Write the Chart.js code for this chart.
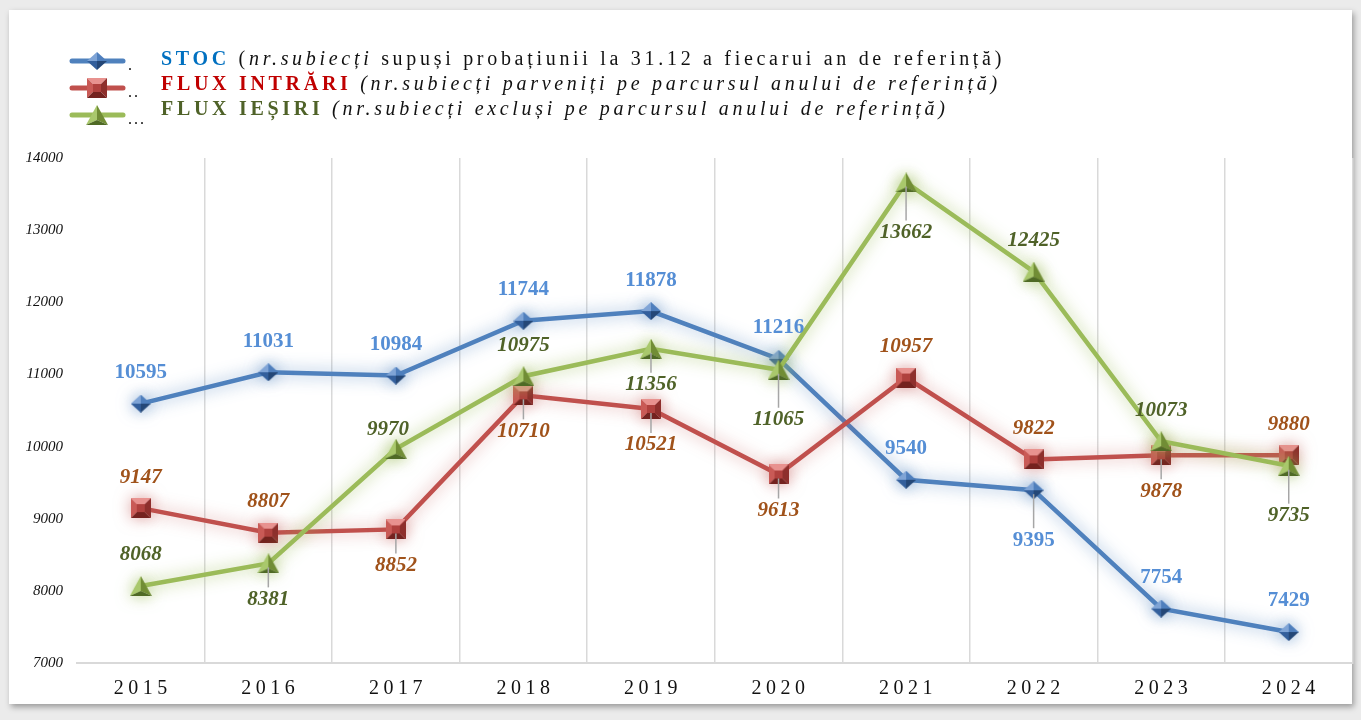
<!DOCTYPE html>
<html>
<head>
<meta charset="utf-8">
<script src="https://cdn.jsdelivr.net/npm/chart.js@4/dist/chart.umd.min.js"></script>
<style>
  html, body { margin: 0; padding: 0; background: #ebebeb; overflow: hidden; }
  #panel { position: absolute; left: 9px; top: 10px; width: 1343px; height: 694px; background: #fff;
           box-shadow: 2px 3px 6px rgba(0,0,0,0.35); }
  #c { position: absolute; left: 0; top: 0; }
</style>
</head>
<body>
<div id="panel"></div>
<canvas id="c" width="1361" height="720"></canvas>
<script>
// data
const years = ["2015", "2016", "2017", "2018", "2019", "2020", "2021", "2022", "2023", "2024"];
const stoc = [10595, 11031, 10984, 11744, 11878, 11216, 9540, 9395, 7754, 7429];
const fluxIntrari = [9147, 8807, 8852, 10710, 10521, 9613, 10957, 9822, 9878, 9880];
const fluxIesiri = [8068, 8381, 9970, 10975, 11356, 11065, 13662, 12425, 10073, 9735];

// where each value label goes: a = above, b = below, B = further below, l = above-left
const stocLabelPos = ["a", "a", "a", "a", "a", "a", "a", "B", "a", "a"];
const intrariLabelPos = ["a", "a", "b", "b", "b", "b", "a", "a", "b", "a"];
const iesiriLabelPos = ["a", "b", "l", "a", "b", "B", "B", "a", "a", "B"];

const SERIF = "'Liberation Serif', 'Times New Roman', serif";

//! marker pictures with bevelled facets
function facet(g, pts, col) {
  g.beginPath();
  g.moveTo(pts[0][0], pts[0][1]);
  for (let i = 1; i < pts.length; i++) g.lineTo(pts[i][0], pts[i][1]);
  g.closePath();
  g.fillStyle = col;
  g.fill();
}
function diamondMarker() {
  const c = document.createElement("canvas");
  c.width = 20; c.height = 18;
  const g = c.getContext("2d");
  facet(g, [[0, 9], [10, 0], [10, 9]], "#7fa4d6");
  facet(g, [[10, 0], [20, 9], [10, 9]], "#4f7fbd");
  facet(g, [[0, 9], [10, 18], [10, 9]], "#335f9c");
  facet(g, [[20, 9], [10, 18], [10, 9]], "#244777");
  return c;
}
function squareMarker() {
  const c = document.createElement("canvas");
  c.width = 20; c.height = 20;
  const g = c.getContext("2d");
  facet(g, [[0, 0], [20, 0], [14, 6], [6, 6]], "#e8928f");
  facet(g, [[0, 0], [6, 6], [6, 14], [0, 20]], "#c95a56");
  facet(g, [[20, 0], [20, 20], [14, 14], [14, 6]], "#8e2f2c");
  facet(g, [[0, 20], [6, 14], [14, 14], [20, 20]], "#74221f");
  g.fillStyle = "#b0413e";
  g.fillRect(6, 6, 8, 8);
  return c;
}
function triangleMarker() {
  const c = document.createElement("canvas");
  c.width = 22; c.height = 20;
  const g = c.getContext("2d");
  facet(g, [[11, 0], [0, 20], [11, 15]], "#a9c86c");
  facet(g, [[11, 0], [22, 20], [11, 15]], "#718d35");
  facet(g, [[0, 20], [22, 20], [11, 15]], "#4f6a25");
  return c;
}
const markers = [diamondMarker(), squareMarker(), triangleMarker()];

//! soft glow round each line
const glowColors = ["rgba(79,129,189,0.7)", "rgba(192,80,77,0.55)", "rgba(155,187,89,0.8)"];
const glowPlugin = {
  id: "glow",
  beforeDatasetDraw(chart, args) {
    const ctx = chart.ctx;
    ctx.save();
    ctx.shadowColor = glowColors[args.index];
    ctx.shadowBlur = 16;
  },
  afterDatasetDraw(chart) {
    chart.ctx.restore();
  }
};

//! value labels with small leader lines
const labelPositions = [stocLabelPos, intrariLabelPos, iesiriLabelPos];
const labelColors = ["#558ed5", "#a0521a", "#4f6228"];
const labelFonts = ["bold 21px " + SERIF, "italic bold 21px " + SERIF, "italic bold 21px " + SERIF];
const valueLabels = {
  id: "valueLabels",
  afterDatasetsDraw(chart) {
    const ctx = chart.ctx;
    ctx.save();
    chart.data.datasets.forEach((ds, di) => {
      const meta = chart.getDatasetMeta(di);
      meta.data.forEach((pt, i) => {
        const pos = labelPositions[di][i];
        let lx = pt.x;
        let ly = pt.y - 31;
        if (pos === "b") ly = pt.y + 36;
        if (pos === "B") ly = pt.y + 50;
        if (pos === "l") { ly = pt.y - 19; lx = pt.x - 8; }
        if (pos === "b" || pos === "B") {
          ctx.strokeStyle = "#a6a6a6";
          ctx.lineWidth = 1.5;
          ctx.beginPath();
          ctx.moveTo(pt.x, pt.y + 4);
          ctx.lineTo(pt.x, ly - 12);
          ctx.stroke();
        }
        ctx.font = labelFonts[di];
        ctx.fillStyle = labelColors[di];
        ctx.textAlign = "center";
        ctx.textBaseline = "middle";
        ctx.fillText(String(ds.data[i]), lx, ly);
      });
    });
    ctx.restore();
  }
};

//! spaced year labels under the axis
const yearLabels = {
  id: "yearLabels",
  afterDraw(chart) {
    const ctx = chart.ctx;
    const xs = chart.scales.x;
    ctx.save();
    ctx.font = "20px " + SERIF;
    ctx.letterSpacing = "4.5px";
    ctx.fillStyle = "#111";
    ctx.textAlign = "center";
    ctx.textBaseline = "middle";
    years.forEach((y, i) => {
      ctx.fillText(y, xs.getPixelForValue(i) + 2, 689);
    });
    ctx.restore();
  }
};

//! legend drawn by hand (mixed fonts per line)
const legendRows = [
  [
    { t: "STOC", f: "bold", c: "#0070c0" },
    { t: " (", f: "", c: "#111" },
    { t: "nr.subiecți", f: "italic", c: "#111" },
    { t: " supuși probațiunii la 31.12 a fiecarui an de referință)", f: "", c: "#111" }
  ],
  [
    { t: "FLUX INTRĂRI", f: "bold", c: "#c00000" },
    { t: " (nr.subiecți parveniți pe parcursul anului de referință)", f: "italic", c: "#111" }
  ],
  [
    { t: "FLUX IEȘIRI", f: "bold", c: "#4f6228" },
    { t: " (nr.subiecți excluși pe parcursul anului de referință)", f: "italic", c: "#111" }
  ]
];
const legendDots = [".", "..", "..."];
const legendLineColors = ["#4f81bd", "#c0504d", "#9bbb59"];
const handLegend = {
  id: "handLegend",
  afterDraw(chart) {
    const ctx = chart.ctx;
    ctx.save();
    const rowY = [60, 85, 110];
    legendRows.forEach((row, r) => {
      const y = rowY[r];
      const ly = y + 1 + r * 2;
      ctx.strokeStyle = legendLineColors[r];
      ctx.lineWidth = 5;
      ctx.lineCap = "round";
      ctx.beginPath();
      ctx.moveTo(72, ly);
      ctx.lineTo(123, ly);
      ctx.stroke();
      const m = markers[r];
      ctx.drawImage(m, 97 - m.width / 2, ly - m.height / 2);
      ctx.font = "16px " + SERIF;
      ctx.fillStyle = "#111";
      ctx.textBaseline = "alphabetic";
      ctx.letterSpacing = "2px";
      ctx.fillText(legendDots[r], 128, ly + 9);
      let x = 161;
      ctx.textBaseline = "middle";
      ctx.letterSpacing = "3.7px";
      row.forEach((seg) => {
        ctx.font = (seg.f ? seg.f + " " : "") + "20px " + SERIF;
        ctx.fillStyle = seg.c;
        ctx.fillText(seg.t, x, y);
        x += ctx.measureText(seg.t).width;
      });
    });
    ctx.restore();
  }
};

new Chart(document.getElementById("c"), {
  type: "line",
  data: {
    labels: years,
    datasets: [
      {
        label: "STOC",
        data: stoc,
        borderColor: "#4f81bd",
        borderWidth: 4.5,
        pointStyle: markers[0],
        order: 2
      },
      {
        label: "FLUX INTRĂRI",
        data: fluxIntrari,
        borderColor: "#c0504d",
        borderWidth: 4.5,
        pointStyle: markers[1],
        order: 1
      },
      {
        label: "FLUX IEȘIRI",
        data: fluxIesiri,
        borderColor: "#9bbb59",
        borderWidth: 4.5,
        pointStyle: markers[2],
        order: 0
      }
    ]
  },
  options: {
    responsive: false,
    animation: false,
    layout: { padding: { top: 158, right: 5, left: 0, bottom: 0 } },
    plugins: {
      legend: { display: false },
      tooltip: { enabled: false }
    },
    scales: {
      x: {
        offset: true,
        grid: {
          offset: true,
          drawTicks: false,
          lineWidth: 1.5,
          color: (c) => (c.index === 0 || c.index === years.length ? "rgba(0,0,0,0)" : "#d9d9d9")
        },
        border: { display: true, color: "#d9d9d9", width: 2 },
        ticks: { display: false },
        afterFit(s) { s.height = 57; }
      },
      y: {
        min: 7000,
        max: 14000,
        grid: { display: false, drawTicks: false },
        border: { display: false },
        ticks: {
          stepSize: 1000,
          padding: 14,
          color: "#111",
          font: { family: SERIF, size: 15, style: "italic" },
          callback: (v) => String(v)
        },
        afterFit(s) { s.width = 77; }
      }
    }
  },
  plugins: [glowPlugin, valueLabels, yearLabels, handLegend]
});
</script>
</body>
</html>
